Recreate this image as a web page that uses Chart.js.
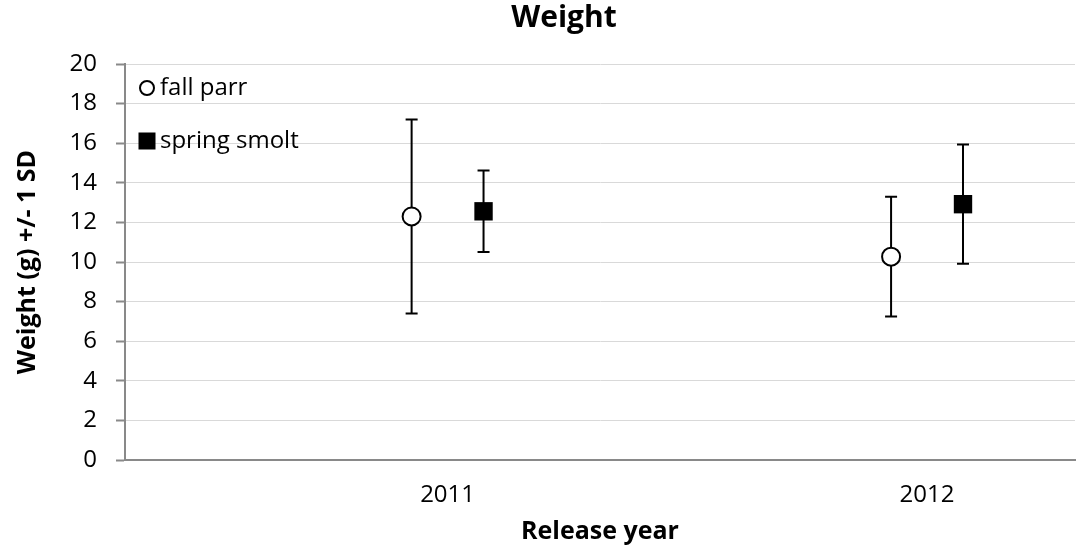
<!DOCTYPE html>
<html>
<head>
<meta charset="utf-8">
<script src="https://cdn.jsdelivr.net/npm/chart.js@4.4.3/dist/chart.umd.min.js"></script>
<style>
  html, body { margin: 0; padding: 0; background: #fff; }
  #wrap { width: 1088px; height: 550px; }
</style>
</head>
<body>
<div id="wrap"><canvas id="weightChart"></canvas></div>
<script>
// release years on the x axis
const years = ['2011', '2012'];

// mean weight (g) and 1 SD
const fallParrMean = [12.3, 10.27];
const fallParrSd = [4.9, 3.02];
const smoltMean = [12.56, 12.92];
const smoltSd = [2.06, 3.01];

const FONT = "'Open Sans', 'DejaVu Sans', sans-serif";
const AXIS_GREY = '#898989';
const DODGE = 0.075;

function toPoints(means, shift) {
    return means.map((m, i) => ({ x: i + shift, y: m }));
}

// vertical SD bars with caps, drawn under the markers
const errorBars = {
    id: 'errorBars',
    beforeDatasetsDraw(chart) {
        const ctx = chart.ctx;
        const xs = chart.scales.x, ys = chart.scales.y;
        ctx.save();
        ctx.strokeStyle = '#000';
        ctx.lineWidth = 2;
        chart.data.datasets.forEach(ds => {
            ds.data.forEach((p, i) => {
                const px = xs.getPixelForValue(p.x);
                const top = ys.getPixelForValue(p.y + ds.sd[i]);
                const bot = ys.getPixelForValue(p.y - ds.sd[i]);
                ctx.beginPath();
                ctx.moveTo(px, top); ctx.lineTo(px, bot);
                ctx.moveTo(px - 6, top); ctx.lineTo(px + 6, top);
                ctx.moveTo(px - 6, bot); ctx.lineTo(px + 6, bot);
                ctx.stroke();
            });
        });
        ctx.restore();
    }
};

// legend inside the plot, top left
const plotLegend = {
    id: 'plotLegend',
    afterDraw(chart) {
        const ctx = chart.ctx;
        const area = chart.chartArea;
        ctx.save();
        ctx.font = '24px ' + FONT;
        ctx.textBaseline = 'middle';
        ctx.fillStyle = '#000';
        chart.data.datasets.forEach((ds, i) => {
            const cy = area.top + 24 + i * 53;
            const cx = area.left + 22;
            ctx.lineWidth = 2;
            ctx.strokeStyle = ds.borderColor;
            ctx.fillStyle = ds.backgroundColor;
            ctx.beginPath();
            if (ds.pointStyle === 'circle') {
                ctx.arc(cx, cy, 7, 0, Math.PI * 2);
            } else {
                ctx.rect(cx - 7.5, cy - 7.5, 15, 15);
            }
            ctx.fill();
            ctx.stroke();
            ctx.fillStyle = '#000';
            ctx.fillText(ds.label, area.left + 35, cy);
        });
        ctx.restore();
    }
};

// chart title, centred the way the original sits
const topTitle = {
    id: 'topTitle',
    afterDraw(chart) {
        const ctx = chart.ctx;
        ctx.save();
        ctx.font = 'bold 30px ' + FONT;
        ctx.textAlign = 'center';
        ctx.textBaseline = 'middle';
        ctx.fillStyle = '#000';
        ctx.fillText('Weight', 564, 18);
        ctx.restore();
    }
};

new Chart(document.getElementById('weightChart'), {
    type: 'scatter',
    data: {
        datasets: [
            {
                label: 'fall parr',
                data: toPoints(fallParrMean, -DODGE),
                sd: fallParrSd,
                pointStyle: 'circle',
                pointRadius: 9,
                pointBorderWidth: 2,
                borderColor: '#000',
                backgroundColor: '#fff'
            },
            {
                label: 'spring smolt',
                data: toPoints(smoltMean, DODGE),
                sd: smoltSd,
                pointStyle: 'rect',
                pointRadius: 13,
                pointBorderWidth: 0,
                borderColor: '#000',
                backgroundColor: '#000'
            }
        ]
    },
    options: {
        responsive: true,
        maintainAspectRatio: false,
        animation: false,
        layout: { padding: { top: 64, right: 0, left: 0, bottom: 0 } },
        plugins: {
            legend: { display: false },
            title: { display: false },
            tooltip: { enabled: false }
        },
        scales: {
            x: {
                type: 'linear',
                min: -0.6728,
                max: 1.3086,
                afterFit(scale) {
                    scale.height = 90;
                    scale.paddingLeft = 0;
                    scale.paddingRight = 0;
                },
                afterBuildTicks(scale) {
                    scale.ticks = years.map((y, i) => ({ value: i }));
                },
                grid: { display: false, drawTicks: false },
                border: { display: true, color: AXIS_GREY, width: 2 },
                ticks: {
                    padding: 21,
                    color: '#000',
                    font: { family: FONT, size: 24 },
                    callback: v => years[v]
                },
                title: {
                    display: true,
                    text: 'Release year',
                    color: '#000',
                    font: { family: FONT, size: 25, weight: 'bold' },
                    padding: { top: 0, bottom: 3 }
                }
            },
            y: {
                min: 0,
                max: 20,
                afterFit(scale) { scale.width = 125; },
                grid: { color: '#d9d9d9', lineWidth: 1, tickColor: AXIS_GREY, tickLength: 9, tickWidth: 2 },
                border: { display: true, color: AXIS_GREY, width: 2 },
                ticks: {
                    stepSize: 2,
                    padding: 19,
                    color: '#000',
                    font: { family: FONT, size: 24 }
                },
                title: {
                    display: true,
                    text: 'Weight (g) +/- 1 SD',
                    color: '#000',
                    font: { family: FONT, size: 25, weight: 'bold' },
                    padding: { top: 13, bottom: 0 }
                }
            }
        }
    },
    plugins: [errorBars, plotLegend, topTitle]
});
</script>
</body>
</html>
